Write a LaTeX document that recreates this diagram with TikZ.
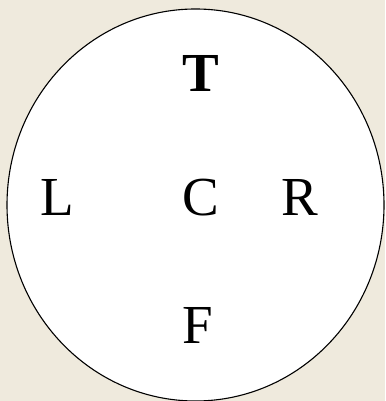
\documentclass[tikz,border=0pt]{standalone}
\usepackage{fontspec}
\setmainfont{Liberation Serif}
\definecolor{parch}{RGB}{239,234,221}
\begin{document}
\begin{tikzpicture}[x=1pt,y=1pt,
  lbl/.style={font=\fontsize{55}{60}\selectfont, anchor=base, inner sep=0pt}]
\fill[parch] (0,0) rectangle (385,401);
\useasboundingbox (0,0) rectangle (385,401);
\draw[fill=white, line width=1.1pt] (195.5,196) ellipse [x radius=188.5, y radius=196];
\node[lbl] (T) at (201,309) {\textbf{T}};
\node[lbl] (L) at (57,185) {L};
\node[lbl] (C) at (201,185) {C};
\node[lbl] (R) at (300,185) {R};
\node[lbl] (F) at (198,57) {F};
\end{tikzpicture}
\end{document}
